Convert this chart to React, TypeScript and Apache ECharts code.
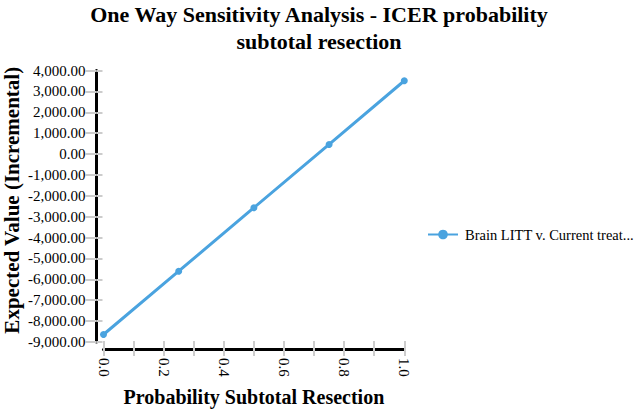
import React, { useEffect, useRef } from "react";
import * as echarts from "echarts";

const xValues = [0, 0.25, 0.5, 0.75, 1.0];
const yValues = [-8640, -5610, -2570, 460, 3510];
const seriesName = "Brain LITT v. Current treat...";
const titleLines = ["One Way Sensitivity Analysis - ICER probability", "subtotal resection"];
const xName = "Probability Subtotal Resection";
const yName = "Expected Value (Incremental)";

const FONT = "'Liberation Serif', 'Times New Roman', serif";
const BLUE = "#4AA3DF";
const TICK = "#cccccc";

const fmtY = (v: number) =>
  v.toLocaleString("en-US", { minimumFractionDigits: 2, maximumFractionDigits: 2 });

export default function App() {
  const ref = useRef<HTMLDivElement>(null);
  useEffect(() => {
    if (!ref.current) return;
    document.body.style.margin = "0";
    const chart = echarts.init(ref.current, undefined, { renderer: "svg" });
    const yCommon = {
      type: "value" as const,
      min: -9000,
      max: 4000,
      interval: 1000,
      offset: 7,
      splitLine: { show: false },
    };
    const xCommon = {
      type: "value" as const,
      min: 0,
      max: 1,
      interval: 0.1,
      offset: 7,
      splitLine: { show: false },
    };
    chart.setOption({
      animation: false,
      title: {
        text: titleLines.join("\n"),
        left: "center",
        top: 1,
        padding: 0,
        textStyle: {
          fontFamily: FONT,
          fontSize: 22,
          fontWeight: "bold",
          color: "#000",
          lineHeight: 27,
        },
      },
      legend: {
        left: 427,
        top: 227,
        padding: 0,
        itemWidth: 30,
        itemHeight: 12,
        textStyle: { fontFamily: FONT, fontSize: 14.5, color: "#000", padding: [0, 0, 0, 2] },
        data: [seriesName],
      },
      grid: { left: 103.5, right: 233.7, top: 70.5, bottom: 65, containLabel: false },
      xAxis: [
        {
          ...xCommon,
          position: "bottom",
          name: xName,
          nameLocation: "middle",
          nameGap: 38,
          nameTextStyle: { fontFamily: FONT, fontSize: 20, fontWeight: "bold", color: "#000" },
          axisLine: { show: true, onZero: false, lineStyle: { color: "#000", width: 3 } },
          axisTick: { show: true, length: 7, lineStyle: { color: TICK, width: 2 } },
          axisLabel: {
            rotate: -90,
            margin: 9,
            fontFamily: FONT,
            fontSize: 15,
            color: "#000",
            formatter: (v: number, i: number) => (i % 2 === 0 ? v.toFixed(1) : ""),
          },
        },
        {
          ...xCommon,
          position: "bottom",
          axisLine: { show: false, onZero: false },
          axisTick: { show: true, inside: true, length: 8, lineStyle: { color: TICK, width: 2 } },
          axisLabel: { show: false },
        },
      ],
      yAxis: [
        {
          ...yCommon,
          position: "left",
          name: yName,
          nameLocation: "middle",
          nameGap: 74,
          nameTextStyle: {
            fontFamily: FONT,
            fontSize: 21,
            fontWeight: "bold",
            color: "#000",
            padding: [0, 0, 0, 12],
          },
          axisLine: { show: true, onZero: false, lineStyle: { color: "#000", width: 3 } },
          axisTick: { show: true, length: 11, lineStyle: { color: TICK, width: 2 } },
          axisLabel: { margin: 11, fontFamily: FONT, fontSize: 15, color: "#000", formatter: fmtY },
        },
        {
          ...yCommon,
          position: "left",
          axisLine: { show: false, onZero: false },
          axisTick: { show: true, inside: true, length: 6, lineStyle: { color: TICK, width: 2 } },
          axisLabel: { show: false },
        },
      ],
      series: [
        {
          name: seriesName,
          type: "line",
          xAxisIndex: 0,
          yAxisIndex: 0,
          data: xValues.map((x, i) => [x, yValues[i]]),
          symbol: "circle",
          symbolSize: 7,
          showSymbol: true,
          lineStyle: { color: BLUE, width: 3 },
          itemStyle: { color: BLUE },
        },
      ],
    });
    return () => chart.dispose();
  }, []);
  return <div ref={ref} style={{ width: 638, height: 412 }} />;
}
